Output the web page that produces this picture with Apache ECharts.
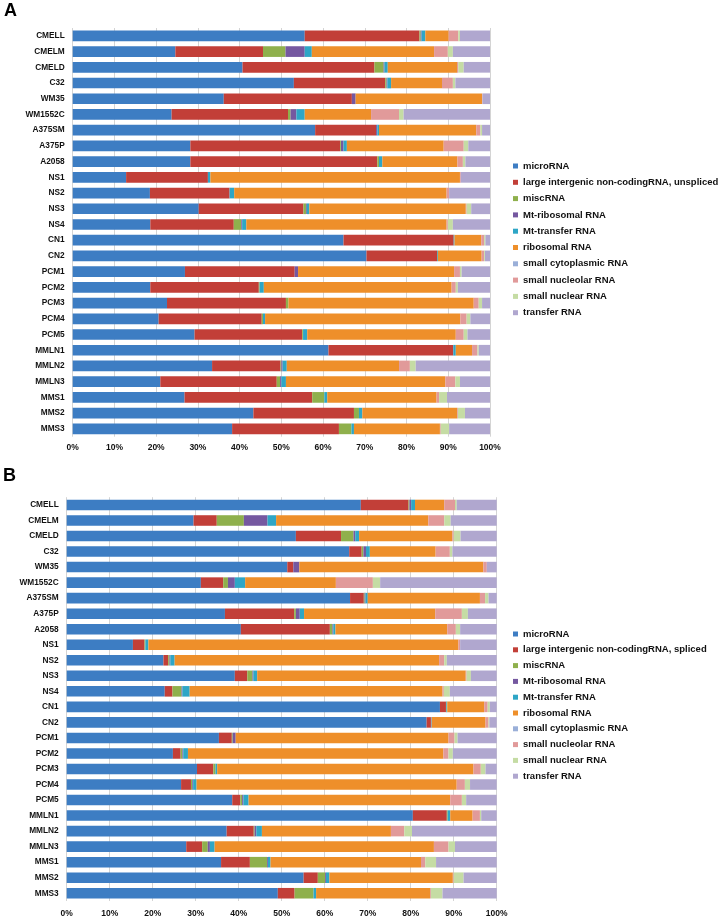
<!DOCTYPE html>
<html><head><meta charset="utf-8">
<script src="https://cdn.jsdelivr.net/npm/echarts@6/dist/echarts.min.js"></script>
<style>html,body{margin:0;padding:0;background:#fff}#c{width:724px;height:919px}</style>
</head><body><div id="c"></div>
<script>
const categories = ["CMELL","CMELM","CMELD","C32","WM35","WM1552C","A375SM","A375P","A2058","NS1","NS2","NS3","NS4","CN1","CN2","PCM1","PCM2","PCM3","PCM4","PCM5","MMLN1","MMLN2","MMLN3","MMS1","MMS2","MMS3"];
const ticks = [0,10,20,30,40,50,60,70,80,90,100];
const namesA = ["microRNA","large intergenic non-codingRNA, unspliced","miscRNA","Mt-ribosomal RNA","Mt-transfer RNA","ribosomal RNA","small cytoplasmic RNA","small nucleolar RNA","small nuclear RNA","transfer RNA"];
const namesB = ["microRNA","large intergenic non-codingRNA, spliced","miscRNA","Mt-ribosomal RNA","Mt-transfer RNA","ribosomal RNA","small cytoplasmic RNA","small nucleolar RNA","small nuclear RNA","transfer RNA"];

// Panel A (percent)
const aMicro = [55.6,24.6,40.7,53.0,36.2,23.7,58.1,28.2,28.2,12.8,18.5,30.2,18.6,64.9,70.4,26.9,18.6,22.6,20.6,29.2,61.3,33.4,21.0,26.8,43.3,38.2];
const aLinc  = [27.5,21.0,31.6,21.9,30.7,27.9,14.6,35.9,44.8,19.6,19.1,25.1,20.0,26.4,16.9,26.3,26.0,28.5,24.7,25.8,29.9,16.4,27.9,30.6,24.1,25.6];
const aMisc  = [0.3,5.4,2.2,0.3,0,0.6,0,0.2,0.4,0,0,0.6,1.8,0,0,0,0.2,0.6,0.3,0.2,0,0.2,0.8,2.9,1.2,3.0];
const aMtRib = [0.2,4.6,0.2,0.2,0.9,1.4,0.3,0.6,0,0,0,0.2,0.2,0,0,0.8,0,0,0,0,0,0.3,0.3,0,0,0];
const aMtTr  = [0.9,1.7,0.8,0.9,0,2.0,0.4,0.8,0.8,0.6,1.1,0.6,1.0,0.2,0.2,0,1.0,0,0.5,1.0,0.6,1.0,1.1,0.7,0.8,0.6];
const aRibo  = [5.6,29.3,16.6,12.2,30.3,15.9,23.3,23.2,18.0,59.8,50.9,37.5,48.0,6.4,10.5,37.4,45.0,44.4,46.8,35.6,3.9,26.9,38.2,26.2,22.7,20.6];
const aScRNA = [0,0,0,0,0,0,0,0,0,0,0,0,0,0,0,0,0,0,0,0,0,0,0,0,0,0];
const aSno   = [2.3,3.3,0.3,2.6,0.1,6.7,1.0,4.8,1.3,0.2,0.6,0.2,0.3,0.7,0.6,1.4,1.0,1.2,1.5,1.9,1.3,2.6,2.4,0.6,0.2,0.2];
const aSn    = [0.4,1.2,1.3,0.6,0,1.1,0.4,1.1,0.6,0,0,1.1,1.2,0.3,0.2,0.4,0.5,0.8,0.9,0.9,0.3,1.4,1.1,1.9,1.7,2.0];
const aTRNA  = [7.2,8.9,6.3,8.3,1.8,20.7,1.9,5.2,5.9,7.0,9.8,4.5,8.9,1.1,1.2,6.8,7.7,1.9,4.7,5.4,2.7,17.8,7.2,10.3,6.0,9.8];

// Panel B (percent)
const bMicro = [68.4,29.5,53.3,65.7,51.3,31.2,65.9,36.8,40.5,15.4,22.5,39.1,22.8,86.8,83.7,35.4,24.7,30.3,26.6,38.5,80.5,37.2,27.8,35.9,55.1,49.1];
const bLinc  = [11.1,5.4,10.5,2.9,1.4,5.2,3.2,16.1,20.7,2.7,1.1,2.9,1.8,1.4,1.0,3.0,1.8,3.8,2.3,1.9,7.9,6.3,3.7,6.7,3.3,3.9];
const bMisc  = [0.2,6.3,2.9,0.4,0,1.1,0.2,0.4,0.6,0.2,0.3,1.2,2.1,0.1,0,0.2,0.4,0.5,0.3,0.4,0.2,0.2,1.3,4.0,1.7,4.4];
const bMtRib = [0.4,5.5,0.4,0.6,1.4,1.6,0.2,0.9,0.2,0,0.2,0.2,0.2,0,0.1,0.7,0.2,0,0.2,0.3,0,0.4,0.5,0.2,0.2,0];
const bMtTr  = [0.9,2.0,0.9,0.9,0,2.4,0.5,1.0,0.5,0.7,1.0,0.9,1.7,0.2,0.1,0,1.1,0.4,0.8,1.2,0.6,1.3,1.1,0.6,0.8,0.6];
const bRibo  = [6.8,35.4,21.7,15.3,42.8,21.1,26.1,30.5,26.0,72.1,61.5,48.5,58.8,8.6,12.5,49.5,59.4,59.6,60.5,46.9,5.2,30.0,51.0,35.0,28.7,26.5];
const bScRNA = [0,0,0,0,0,0,0,0,0,0,0,0,0,0,0,0,0,0,0,0,0,0,0,0,0,0];
const bSno   = [2.5,3.7,0.3,3.3,0.8,8.6,1.2,6.2,2.0,0.4,1.2,0.2,0.3,0.8,0.7,1.4,1.2,1.7,1.9,2.7,1.7,3.1,3.4,1.0,0.2,0.2];
const bSn    = [0.4,1.5,1.6,0.6,0,1.7,0.8,1.4,1.0,0,0.6,1.0,1.4,0.5,0.2,0.7,1.0,1.1,1.2,1.0,0.3,1.8,1.5,2.5,2.3,2.7];
const bTRNA  = [9.3,10.7,8.4,10.3,2.3,27.1,1.9,6.7,8.5,8.5,11.6,6.0,10.9,1.6,1.7,9.1,10.2,2.6,6.2,7.1,3.6,19.7,9.7,14.1,7.7,12.6];

const colors = ["#3D7DC3","#C23F38","#8FB04C","#7558A0","#2EA6C6","#EE8F2A","#9AAFD8","#E19A9A","#C5DCA4","#B0A7CF"];
const dataA = [aMicro,aLinc,aMisc,aMtRib,aMtTr,aRibo,aScRNA,aSno,aSn,aTRNA];
const dataB = [bMicro,bLinc,bMisc,bMtRib,bMtTr,bRibo,bScRNA,bSno,bSn,bTRNA];

const FONT = "'Liberation Sans', Arial, sans-serif";
const chart = echarts.init(document.getElementById('c'), null, {renderer:'canvas'});

function xAx(idx){
  return {type:'value', gridIndex:idx, min:ticks[0], max:ticks[ticks.length-1], interval:10,
    axisLine:{show:false}, axisTick:{show:false},
    splitLine:{show:true, lineStyle:{color:'#d4d4d4', width:1}},
    axisLabel:{formatter:'{value}%', fontFamily:FONT, fontWeight:'bold', fontSize:8.5, color:'#111', margin: idx===0?6:8}};
}
function yAx(idx){
  return {type:'category', gridIndex:idx, data:categories, inverse:true,
    axisLine:{show:false}, axisTick:{show:false}, splitLine:{show:false},
    axisLabel:{fontFamily:FONT, fontWeight:'bold', fontSize:8.3, color:'#111', margin:8}};
}
const series = [];
[dataA, dataB].forEach((d, p) => {
  const names = p===0 ? namesA : namesB;
  d.forEach((arr, i) => {
    series.push({type:'bar', name:names[i], stack:'s'+p, xAxisIndex:p, yAxisIndex:p,
      data:arr, barCategoryGap:'32%', itemStyle:{color:colors[i]}, emphasis:{disabled:true}, animation:false});
  });
});
function legend(names, top, gap){
  return {orient:'vertical', left:513, top:top, padding:0, itemWidth:5, itemHeight:5, itemGap:gap, icon:'rect',
    data:names.map((n,i)=>({name:n, itemStyle:{color:colors[i]}})),
    textStyle:{fontFamily:FONT, fontWeight:'bold', fontSize:9.5, color:'#111', lineHeight:12}, selectedMode:false};
}
chart.setOption({
  animation:false,
  title:[
    {text:'A', left:4, top:2, padding:0, textStyle:{fontFamily:FONT, fontWeight:'bold', fontSize:18, color:'#000'}},
    {text:'B', left:3, top:467, padding:0, textStyle:{fontFamily:FONT, fontWeight:'bold', fontSize:18, color:'#000'}}
  ],
  grid:[
    {left:72.7, top:28, width:417.3, height:408.7, containLabel:false},
    {left:66.7, top:497.2, width:430, height:403.8, containLabel:false}
  ],
  xAxis:[xAx(0), xAx(1)],
  yAxis:[yAx(0), yAx(1)],
  legend:[legend(namesA, 160, 4.3), legend(namesB, 628, 3.8)],
  series:series
});
</script></body></html>
